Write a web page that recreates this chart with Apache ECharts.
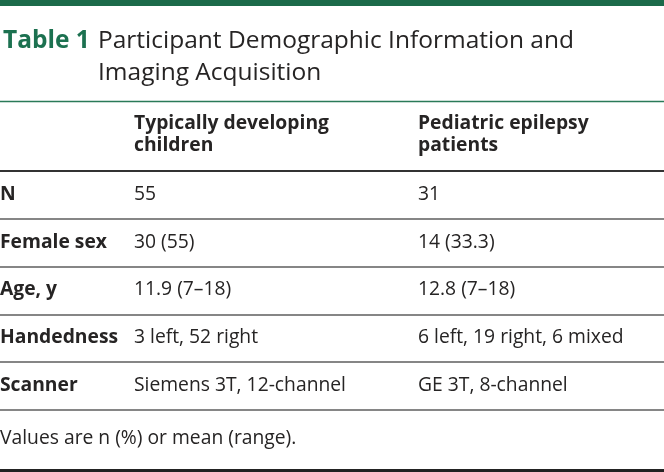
<!DOCTYPE html>
<html>
<head>
<meta charset="utf-8">
<script src="https://cdn.jsdelivr.net/npm/echarts@6/dist/echarts.min.js"></script>
<style>
html,body{margin:0;padding:0;background:#fff;}
#chart{width:664px;height:472px;}
</style>
</head>
<body>
<div id="chart"></div>
<script>
// ---- data ----
const tableLabel = 'Table 1';
const titleLines = ['Participant Demographic Information and', 'Imaging Acquisition'];
const columnHeaders = ['Typically developing\nchildren', 'Pediatric epilepsy\npatients'];
const rowLabels = ['N', 'Female sex', 'Age, y', 'Handedness', 'Scanner'];
const typicalValues = ['55', '30 (55)', '11.9 (7\u201318)', '3 left, 52 right', 'Siemens 3T, 12-channel'];
const epilepsyValues = ['31', '14 (33.3)', '12.8 (7\u201318)', '6 left, 19 right, 6 mixed', 'GE 3T, 8-channel'];
const footnote = 'Values are n (%) or mean (range).';

// ---- layout ----
const FONT = '"Open Sans", "Noto Sans", sans-serif';
const GREEN = '#1c7150';
const TEXT = '#262424';
const BODY = '19.3px ';
const colX = [0, 134, 418];

const cells = [];
rowLabels.forEach((lab, r) => {
  cells.push({ col: 0, row: r, text: lab, bold: true });
  cells.push({ col: 1, row: r, text: typicalValues[r], bold: false });
  cells.push({ col: 2, row: r, text: epilepsyValues[r], bold: false });
});

const chart = echarts.init(document.getElementById('chart'), null, { renderer: 'canvas' });
chart.setOption({
  animation: false,
  backgroundColor: '#fff',
  grid: { left: 0, right: 0, top: 171, height: 239, containLabel: false },
  xAxis: { type: 'value', min: 0, max: 664, show: false },
  yAxis: {
    type: 'category',
    data: rowLabels,
    inverse: true,
    axisLine: { show: false },
    axisTick: { show: false },
    axisLabel: { show: false },
    splitLine: { show: true, lineStyle: { color: '#5e5e5e', width: 1.5 } }
  },
  series: [{
    type: 'custom',
    coordinateSystem: 'cartesian2d',
    data: cells.map(c => [colX[c.col], c.row]),
    renderItem: function (params, api) {
      const c = cells[params.dataIndex];
      const p = api.coord([api.value(0), api.value(1)]);
      return {
        type: 'text',
        x: p[0],
        y: p[1] - 0.5,
        style: {
          text: c.text,
          fill: TEXT,
          font: (c.bold ? 'bold ' : '') + BODY + FONT,
          align: 'left',
          verticalAlign: 'middle'
        }
      };
    }
  }],
  graphic: [
    { type: 'rect', left: 0, top: 0, shape: { x: 0, y: 0, width: 664, height: 6 }, style: { fill: '#1b6a4a' } },
    { type: 'text', x: 3, y: 41.5, style: { text: tableLabel, fill: GREEN, font: 'bold 24.5px ' + FONT, verticalAlign: 'middle' } },
    { type: 'text', x: 98, y: 41.5, style: { text: titleLines[0], fill: TEXT, font: '24.5px ' + FONT, verticalAlign: 'middle' } },
    { type: 'text', x: 98, y: 73, style: { text: titleLines[1], fill: TEXT, font: '24.5px ' + FONT, verticalAlign: 'middle' } },
    { type: 'line', shape: { x1: 0, y1: 101.5, x2: 664, y2: 101.5 }, style: { stroke: '#2a7a58', lineWidth: 1.5 } },
    { type: 'text', x: colX[1], y: 135, style: { text: columnHeaders[0], fill: TEXT, font: 'bold ' + BODY + FONT, lineHeight: 22, verticalAlign: 'middle' } },
    { type: 'text', x: colX[2], y: 135, style: { text: columnHeaders[1], fill: TEXT, font: 'bold ' + BODY + FONT, lineHeight: 22, verticalAlign: 'middle' } },
    { type: 'line', z: 10, shape: { x1: 0, y1: 171, x2: 664, y2: 171 }, style: { stroke: '#333', lineWidth: 2 } },
    { type: 'text', x: 0, y: 439, style: { text: footnote, fill: TEXT, font: BODY + FONT, verticalAlign: 'middle' } },
    { type: 'rect', left: 0, top: 469, shape: { x: 0, y: 0, width: 664, height: 3 }, style: { fill: '#222' } }
  ]
});
</script>
</body>
</html>
